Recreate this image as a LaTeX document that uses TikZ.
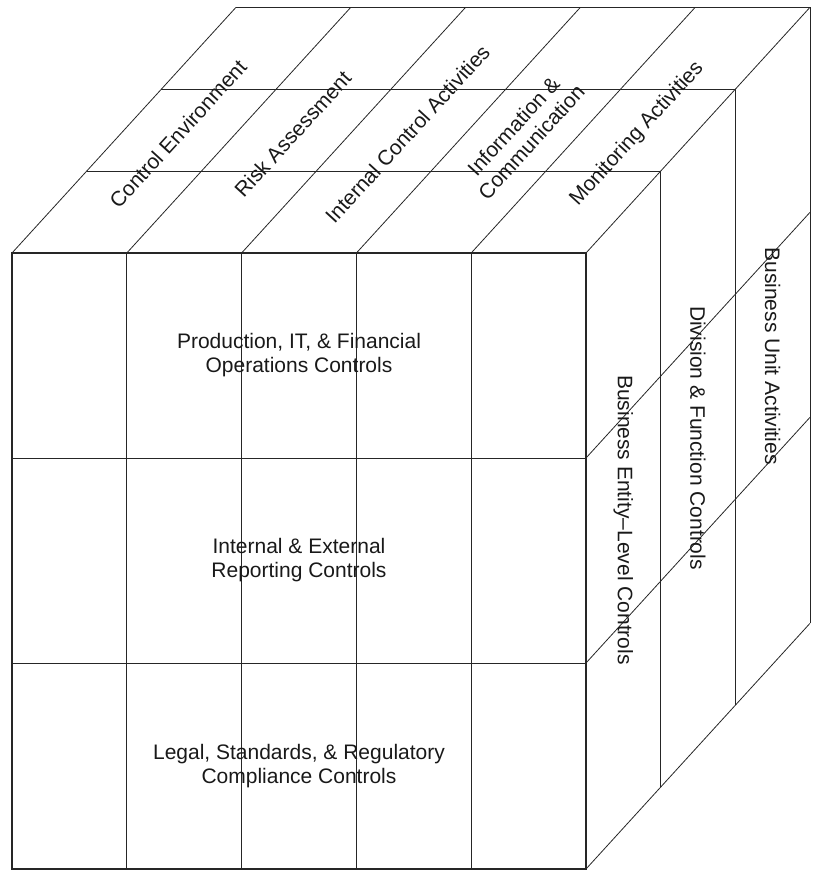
\documentclass[tikz,border=0pt]{standalone}
\usepackage{fontspec}
\setmainfont{Liberation Sans}
\usetikzlibrary{calc}
\begin{document}
\begin{tikzpicture}[x=1pt,y=-1pt,
  edge/.style={line width=0.8pt,draw=black!85},
  frontedge/.style={line width=1.2pt,draw=black!85},
  lbl/.style={font=\fontsize{21}{24}\selectfont,align=center,inner sep=0pt,text=black!90},
  toplbl/.style={lbl,rotate=47.6},
  sidelbl/.style={lbl,rotate=-90}]
\useasboundingbox (0,0) rectangle (815,879);

% depth offset of the cube, one third per layer
\def\dx{74.667}
\def\dy{81.9}

% front face: five component columns by three objective rows
\foreach \i/\x in {0/12,1/126.8,2/241.6,3/356.4,4/471.2,5/586}{
  \coordinate (f\i) at (\x,253);
  \coordinate (b\i) at (\x,869);
}
\coordinate (r1a) at (12,458);  \coordinate (r1b) at (586,458);
\coordinate (r2a) at (12,663);  \coordinate (r2b) at (586,663);

\foreach \i in {1,...,4}{ \draw[edge] (f\i) -- (b\i); }
\draw[edge] (r1a) -- (r1b);
\draw[edge] (r2a) -- (r2b);
\draw[frontedge] (f0) -- (f5) -- (b5) -- (b0) -- cycle;

% top face: column edges run back in depth, layer lines across
\foreach \i in {0,...,5}{
  \draw[edge] (f\i) -- ++(3*\dx,-3*\dy) coordinate (t\i);
}
\draw[edge] ($(f0)+(\dx,-\dy)$) coordinate (d1a) -- ++(574,0) coordinate (d1b);
\draw[edge] ($(f0)+(2*\dx,-2*\dy)$) coordinate (d2a) -- ++(574,0) coordinate (d2b);
\draw[edge] (t0) -- (t5);

% right face: depth layers as verticals, rows slant back
\draw[edge] (d1b) -- ++(0,616) coordinate (v1);
\draw[edge] (d2b) -- ++(0,616) coordinate (v2);
\draw[edge] (t5) -- ++(0,616) coordinate (v3);
\draw[edge] (r1b) -- ++(3*\dx,-3*\dy);
\draw[edge] (r2b) -- ++(3*\dx,-3*\dy);
\draw[edge] (b5) -- (v3);

% objective rows
\node[lbl] (ops) at (299,355.5) {Production, IT, \& Financial\\Operations Controls};
\node[lbl] (rep) at (299,560.5) {Internal \& External\\Reporting Controls};
\node[lbl] (leg) at (299,766) {Legal, Standards, \& Regulatory\\Compliance Controls};

% components on top, centred in their columns
\node[toplbl] (ce)  at (177.9,134) {Control Environment};
\node[toplbl] (ra)  at (292.7,134) {Risk Assessment};
\node[toplbl] (ica) at (407.5,134) {Internal Control Activities};
\node[toplbl] (ic)  at (522.3,134) {Information \&\\Communication};
\node[toplbl] (ma)  at (637.1,134) {Monitoring Activities};

% organisational levels, centred in their slabs
\node[sidelbl] (bel) at (623.3,520) {Business Entity--Level Controls};
\node[sidelbl] (dfc) at (698,438) {Division \& Function Controls};
\node[sidelbl] (bua) at (772.7,356) {Business Unit Activities};
\end{tikzpicture}
\end{document}
